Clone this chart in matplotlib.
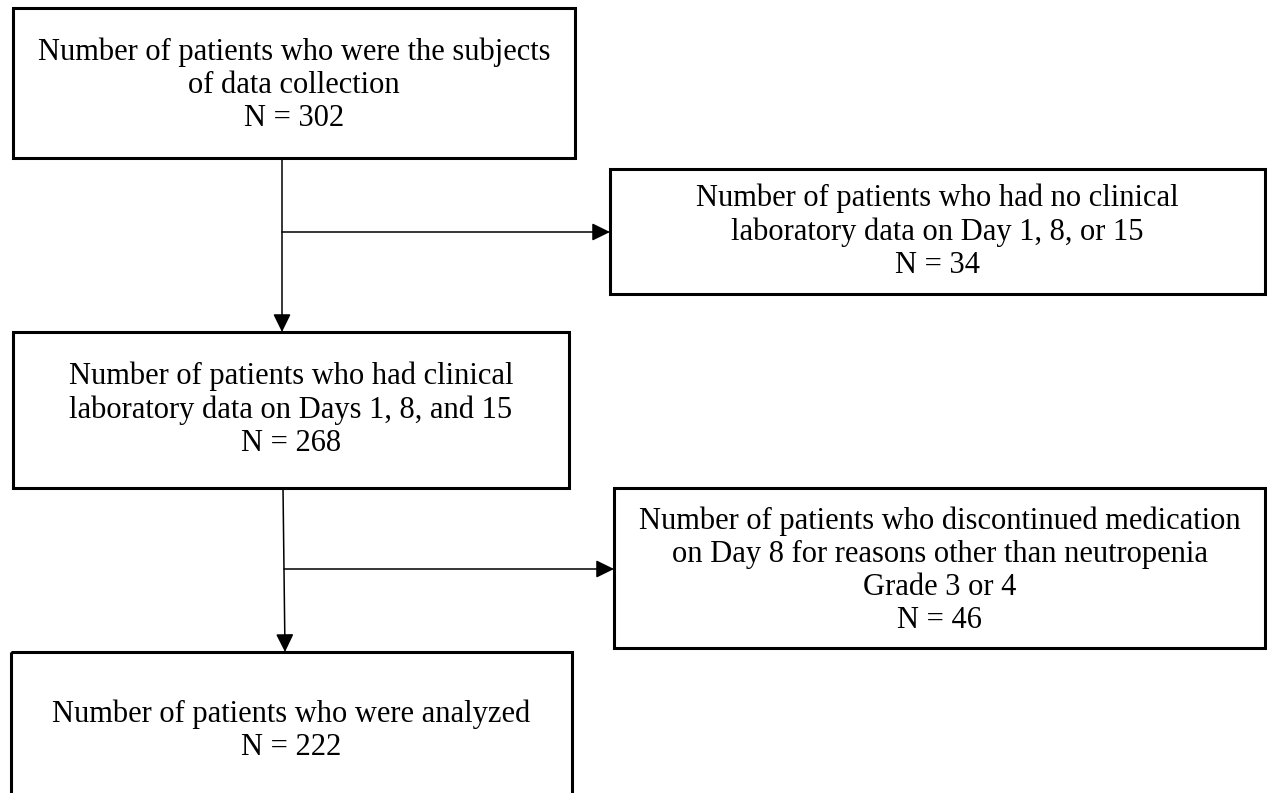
import matplotlib
matplotlib.use("Agg")
from matplotlib import pyplot as plt
from matplotlib.patches import Rectangle

# box texts and counts
box_labels = [
    "Number of patients who were the subjects\nof data collection",
    "Number of patients who had no clinical\nlaboratory data on Day 1, 8, or 15",
    "Number of patients who had clinical\nlaboratory data on Days 1, 8, and 15",
    "Number of patients who discontinued medication\non Day 8 for reasons other than neutropenia\nGrade 3 or 4",
    "Number of patients who were analyzed",
]
n_values = [302, 34, 268, 46, 222]

# layout in pixel units (x0, y0, x1, y1), y going down
boxes = [
    (13, 8, 575, 158),
    (610, 169, 1265, 294),
    (13, 332, 569, 488),
    (614, 488, 1265, 648),
    (11, 652, 572, 830),
]
# text centre y for each box
text_y = [85, 232, 410, 571, 731]

plt.rcParams['font.family'] = ['Liberation Serif', 'DejaVu Serif']

fig = plt.figure(figsize=(12.67, 7.93), dpi=100)
ax = fig.add_axes([0, 0, 1, 1])
ax.set_xlim(0, 1267)
ax.set_ylim(793, 0)
ax.axis('off')

for (x0, y0, x1, y1), label, n, ty in zip(boxes, box_labels, n_values, text_y):
    ax.add_patch(Rectangle((x0, y0), x1 - x0, y1 - y0, fill=False,
                           edgecolor='black', linewidth=2.2))
    ax.text((x0 + x1) / 2, ty, f"{label}\nN = {n}", ha='center', va='center',
            fontsize=22, linespacing=1.18, color='black')

arrow_kw = dict(arrowstyle='-|>,head_length=0.55,head_width=0.27',
                color='black', lw=1.1, shrinkA=0, shrinkB=0, mutation_scale=20)

# main flow
ax.annotate('', xy=(282, boxes[2][1]), xytext=(282, boxes[0][3]), arrowprops=arrow_kw)
ax.annotate('', xy=(285, boxes[4][1]), xytext=(283, boxes[2][3]), arrowprops=arrow_kw)
# exclusions
ax.annotate('', xy=(boxes[1][0], 232), xytext=(282, 232), arrowprops=arrow_kw)
ax.annotate('', xy=(boxes[3][0], 569), xytext=(284, 569), arrowprops=arrow_kw)

fig.savefig('out.png', dpi=100)
